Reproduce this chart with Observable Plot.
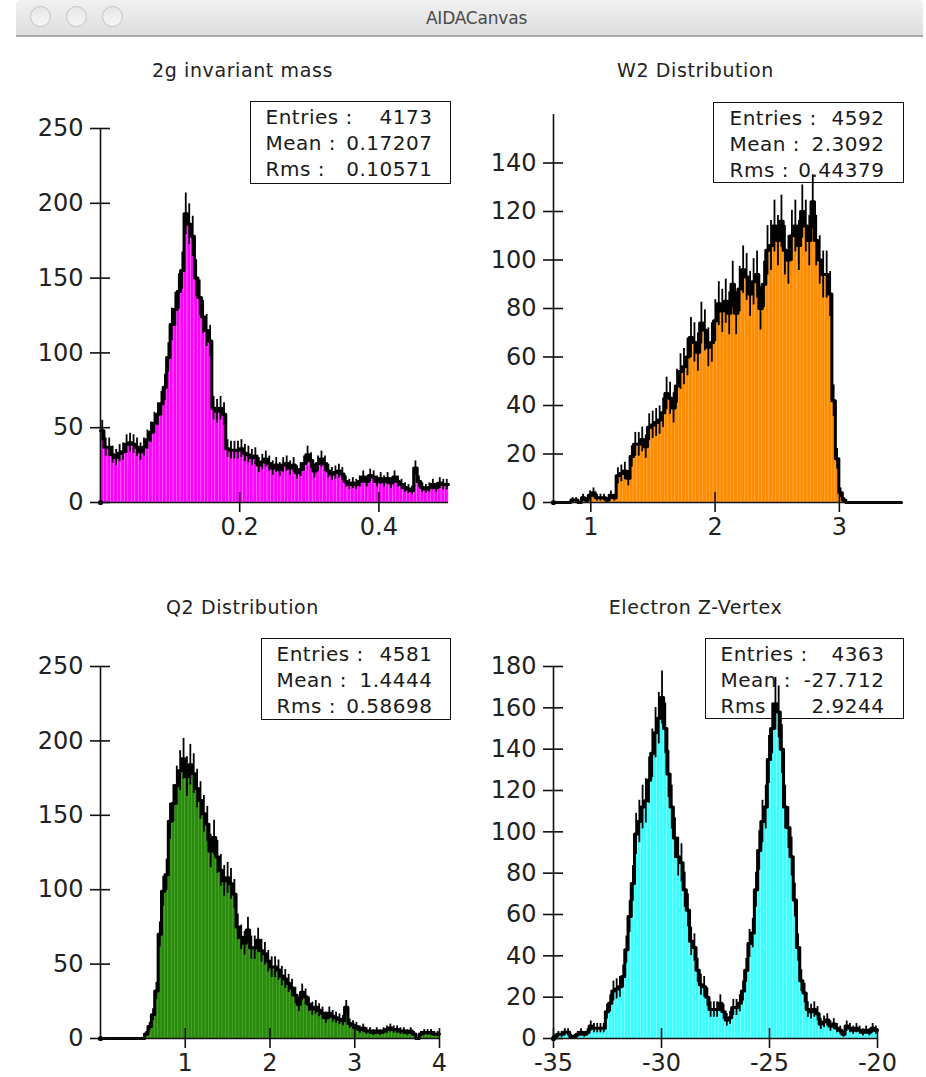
<!DOCTYPE html>
<html>
<head>
<meta charset="utf-8">
<script src="https://cdn.jsdelivr.net/npm/d3@7"></script>
<script src="https://cdn.jsdelivr.net/npm/@observablehq/plot@0.6"></script>
<style>
  body { margin: 0; background: #fff; }
  #canvas { position: relative; width: 926px; height: 1077px; overflow: hidden; background: #fff;
            font-family: "DejaVu Sans", sans-serif; color: #1a1a1a; }
  .titlebar { position: absolute; left: 16px; top: 0; width: 907px; height: 37px; box-sizing: border-box;
              background: linear-gradient(#f1f1f1, #dedede); border-bottom: 2px solid #a8a8a8;
              border-radius: 5px 5px 0 0; }
  .light { position: absolute; top: 6px; width: 21px; height: 21px; border-radius: 50%; box-sizing: border-box;
           border: 1.5px solid #c2c2c2; background: linear-gradient(#e6e6e6, #f6f6f6); }
  .wintitle { position: absolute; left: 14px; right: 0; top: 8px; text-align: center; font-size: 17px;
              color: #4a4a4a; letter-spacing: -0.2px; }
  .ptitle { position: absolute; width: 453px; text-align: center; font-size: 19px; line-height: 19px;
            letter-spacing: 0.6px; color: #222; }
  .stats { position: absolute; box-sizing: border-box; border: 1.5px solid #111; background: #fff;
           font-size: 20px; line-height: 26px; padding-top: 1.5px; letter-spacing: 0.5px; color: #1a1a1a; }
  .stats div { display: flex; justify-content: space-between; white-space: pre; }
  .plotbox { position: absolute; }
</style>
</head>
<body>
<div id="canvas">
  <div class="titlebar">
    <div class="light" style="left:14px"></div>
    <div class="light" style="left:50px"></div>
    <div class="light" style="left:86px"></div>
    <div class="wintitle">AIDACanvas</div>
  </div>
</div>
<script>
// ---- histogram contents (100 bins each) ----
const massRange = [0, 0.5];
const massCounts = [
  48,37,37,32,30,33,34,39,40,39,37,34,37,42,47,53,59,66,
  77,97,119,129,141,155,193,186,178,150,137,124,115,108,63,61,63,59,36,
  35,35,35,36,33,32,30,31,25,27,29,26,23,25,22,25,26,23,25,20,22,26,32,28,21,26,29,26,21,19,
  20,21,19,14,12,13,12,14,17,14,18,17,14,16,14,16,13,17,14,12,10,9,8,23,14,10,9,10,12,10,13,12,12
];

const w2Range = [0.7, 3.5];
const w2Counts = [
  0,0,0,0,0,
  1,1,0,2,1,3,4,2,2,2,1,3,2,
  11,12,13,10,19,24,24,26,23,31,32,33,34,37,
  45,43,39,48,54,56,60,68,66,62,74,71,64,66,75,
  82,79,83,78,90,78,88,96,93,86,91,94,80,90,
  104,106,114,108,116,104,100,110,114,106,120,114,108,124,108,
  100,94,94,86,42,18,4,1,
  0,0,0,0,0,0,0,0,0,0,0,0,0,0,0,0
];

const q2Range = [0, 4];
const q2Counts = [
  0,0,0,0,0,0,0,0,0,0,0,0,0,
  3,8,16,32,70,99,110,146,158,
  170,180,188,176,184,178,168,160,151,144,
  126,135,122,113,106,108,104,97,75,68,64,73,61,61,66,59,57,52,
  48,48,46,42,40,37,34,29,23,31,28,23,20,21,19,17,14,17,15,14,13,12,
  21,10,9,8,6,7,5,5,4,5,4,5,6,7,6,6,5,5,4,5,3,0,3,4,4,4,3,3
];

const zvRange = [-35, -20];
const zvCounts = [
  1,2,2,3,3,1,1,2,3,2,3,6,5,5,5,5,
  13,17,23,24,25,30,43,59,75,99,105,112,115,
  125,138,148,155,165,150,128,112,97,88,85,72,62,47,44,
  33,26,25,20,14,14,14,17,13,9,10,15,15,17,23,33,46,51,72,91,105,112,
  135,150,162,158,140,112,102,88,67,44,28,22,14,13,14,12,
  7,8,9,6,7,5,4,2,6,5,4,5,4,3,4,3,5,4
];

// ---- axes ----
const massXTicks = [0.2, 0.4];
const massYTicks = [0, 50, 100, 150, 200, 250];
const w2XTicks = [1, 2, 3];
const w2YTicks = [0, 20, 40, 60, 80, 100, 120, 140];
const q2XTicks = [1, 2, 3, 4];
const q2YTicks = [0, 50, 100, 150, 200, 250];
const zvXTicks = [-35, -30, -25, -20];
const zvYTicks = [0, 20, 40, 60, 80, 100, 120, 140, 160, 180];

// ---- titles and statistics boxes ----
const titles = ["2g invariant mass", "W2 Distribution", "Q2 Distribution", "Electron Z-Vertex"];
const statEntries = ["4173", "4592", "4581", "4363"];
const statMean = ["0.17207", "2.3092", "1.4444", "-27.712"];
const statRms = ["0.10571", "0.44379", "0.58698", "2.9244"];

const panels = [
  {counts: massCounts, range: massRange, xDomain: [0, 0.5], yDomain: [0, 250], xTicks: massXTicks, yTicks: massYTicks,
   fill: "#ff00ff", stripe: "#ff70ff",
   box: {left: 0, top: 40, w: 463, h: 540, ml: 100, mr: 15, mt: 88, mb: 78},
   titleX: 16, titleY: 61,
   stat: {left: 250, top: 101, w: 201, h: 83, pl: 14.5, pr: 17.5}},
  {counts: w2Counts, range: w2Range, xDomain: [0.7, 3.5], yDomain: [0, 160], xTicks: w2XTicks, yTicks: w2YTicks,
   fill: "#ff8c00", stripe: "#ffa940",
   box: {left: 463, top: 40, w: 463, h: 540, ml: 90, mr: 25, mt: 74, mb: 78},
   titleX: 469, titleY: 61,
   stat: {left: 713, top: 102, w: 191, h: 81, pl: 15.5, pr: 18.5}},
  {counts: q2Counts, range: q2Range, xDomain: [0, 4], yDomain: [0, 250], xTicks: q2XTicks, yTicks: q2YTicks,
   fill: "#298b0b", stripe: "#4ea332",
   box: {left: 0, top: 580, w: 463, h: 497, ml: 100, mr: 24, mt: 86, mb: 39},
   titleX: 16, titleY: 598,
   stat: {left: 261, top: 638, w: 190, h: 82, pl: 14.5, pr: 17.5}},
  {counts: zvCounts, range: zvRange, xDomain: [-35, -20], yDomain: [0, 180], xTicks: zvXTicks, yTicks: zvYTicks,
   fill: "#36ffff", stripe: "#95ffff",
   box: {left: 463, top: 580, w: 463, h: 497, ml: 90, mr: 49, mt: 86, mb: 39},
   titleX: 469, titleY: 598,
   stat: {left: 705, top: 638, w: 199, h: 81, pl: 14.5, pr: 18.5}}
];

const canvas = document.getElementById("canvas");
const fmt = d => String(d);

panels.forEach((p, k) => {
  // panel title
  const t = document.createElement("div");
  t.className = "ptitle";
  t.style.left = p.titleX + "px";
  t.style.top = p.titleY + "px";
  t.textContent = titles[k];
  canvas.appendChild(t);

  // statistics box (sits under the histogram)
  const s = document.createElement("div");
  s.className = "stats";
  Object.assign(s.style, {left: p.stat.left + "px", top: p.stat.top + "px", width: p.stat.w + "px",
    height: p.stat.h + "px", paddingLeft: p.stat.pl + "px", paddingRight: p.stat.pr + "px"});
  [["Entries :", statEntries[k]], ["Mean :", statMean[k]], ["Rms :", statRms[k]]].forEach(([a, b]) => {
    const row = document.createElement("div");
    const l = document.createElement("span"); l.textContent = a;
    const r = document.createElement("span"); r.textContent = b;
    row.append(l, r);
    s.appendChild(row);
  });
  canvas.appendChild(s);

  // bins
  const n = p.counts.length;
  const bw = (p.range[1] - p.range[0]) / n;
  const bins = p.counts.map((c, i) => ({
    x1: p.range[0] + i * bw, x2: p.range[0] + (i + 1) * bw, xm: p.range[0] + (i + 0.5) * bw, n: c
  }));
  const filled = bins.filter(b => b.n > 0);
  const outline = bins.flatMap(b => [{x: b.x1, y: b.n}, {x: b.x2, y: b.n}]);

  const axisStroke = "#111";
  const svg = Plot.plot({
    width: p.box.w, height: p.box.h,
    marginLeft: p.box.ml, marginRight: p.box.mr, marginTop: p.box.mt, marginBottom: p.box.mb,
    x: {domain: p.xDomain, axis: null, label: null},
    y: {domain: p.yDomain, axis: null, label: null},
    style: {background: "transparent", fontFamily: "DejaVu Sans, sans-serif", color: "#1a1a1a", overflow: "visible"},
    marks: [
      Plot.rectY(filled, {x1: "x1", x2: "x2", y: "n", fill: p.fill, stroke: p.stripe, strokeWidth: 0.6}),
      Plot.ruleX(filled, {x: "xm", y1: d => d.n - Math.sqrt(d.n), y2: d => d.n + Math.sqrt(d.n),
        stroke: "#000", strokeWidth: 1.8}),
      Plot.line(outline, {x: "x", y: "y", stroke: "#000", strokeWidth: 3}),
      Plot.ruleY([0], {x1: p.xDomain[0], x2: p.xDomain[1], stroke: axisStroke, strokeWidth: 1.6}),
      Plot.ruleX([p.xDomain[0]], {y1: p.yDomain[0], y2: p.yDomain[1], stroke: axisStroke, strokeWidth: 1.6}),
      Plot.axisY(p.yTicks, {tickSize: 20, dx: 10, fill: "none", stroke: axisStroke, strokeWidth: 1.6, label: null}),
      Plot.axisY(p.yTicks, {tickSize: 0, tickPadding: 17, tickFormat: fmt, fontSize: 24, fill: "#222", label: null}),
      Plot.axisX(p.xTicks, {tickSize: 20, dy: -10, fill: "none", stroke: axisStroke, strokeWidth: 1.6, label: null}),
      Plot.axisX(p.xTicks, {tickSize: 0, tickPadding: 15, tickFormat: fmt, fontSize: 24, fill: "#222", label: null}),
      Plot.dot([{x: p.xDomain[0], y: 0}], {x: "x", y: "y", r: 2.6, fill: "#000"})
    ]
  });
  const holder = document.createElement("div");
  holder.className = "plotbox";
  holder.style.left = p.box.left + "px";
  holder.style.top = p.box.top + "px";
  holder.appendChild(svg);
  canvas.appendChild(holder);
});
</script>
</body>
</html>
